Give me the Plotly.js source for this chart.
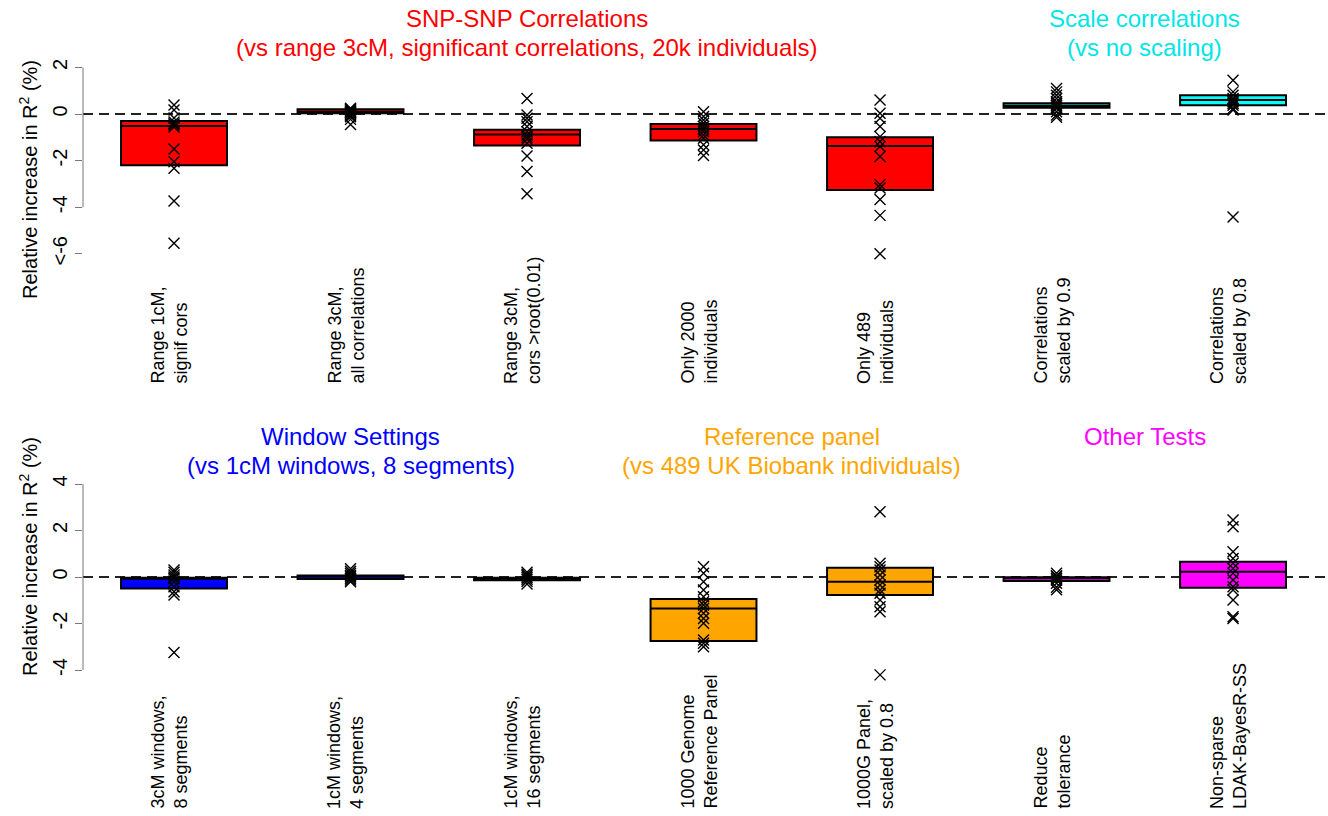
<!DOCTYPE html>
<html>
<head>
<meta charset="utf-8">
<script src="https://cdn.plot.ly/plotly-3.0.1.min.js"></script>
<style>html,body{margin:0;padding:0;background:#fff;}#chart{width:1328px;height:816px;}</style>
</head>
<body>
<div id="chart"></div>
<script>
// ---------- DATA ----------
const topCategories = ['Range 1cM,<br>signif cors', 'Range 3cM,<br>all correlations', 'Range 3cM,<br>cors >root(0.01)',
  'Only 2000<br>individuals', 'Only 489<br>individuals', 'Correlations<br>scaled by 0.9', 'Correlations<br>scaled by 0.8'];
const topQ1 = [-2.2, 0.03, -1.35, -1.14, -3.26, 0.27, 0.38];
const topMedian = [-0.51, 0.1, -0.88, -0.64, -1.37, 0.35, 0.6];
const topQ3 = [-0.3, 0.2, -0.67, -0.43, -1.0, 0.46, 0.81];
const topPoints = [
  [0.39, 0.17, -0.17, -0.34, -0.42, -0.47, -0.56, -1.5, -2.05, -2.33, -3.73, -5.55],
  [0.25, 0.2, 0.17, 0.13, 0.1, 0.08, 0.05, 0.02, -0.05, -0.12, -0.23, -0.45],
  [0.67, -0.04, -0.18, -0.33, -0.54, -0.76, -0.9, -1.0, -1.08, -1.25, -1.8, -2.47, -3.42],
  [0.1, -0.11, -0.26, -0.4, -0.54, -0.64, -0.75, -0.9, -1.04, -1.32, -1.54, -1.78],
  [0.6, 0.03, -0.18, -0.54, -0.97, -1.18, -1.39, -1.82, -3.03, -3.18, -3.67, -4.35, -6.0],
  [1.1, 0.95, 0.81, 0.67, 0.53, 0.45, 0.38, 0.3, 0.24, 0.1, -0.04, -0.14],
  [1.45, 0.95, 0.81, 0.67, 0.6, 0.53, 0.45, 0.38, 0.24, 0.17, -4.42]
];
const topTickVals = [-6, -4, -2, 0, 2];
const topTickText = ['<-6', '-4', '-2', '0', '2'];

const bottomCategories = ['3cM windows,<br>8 segments', '1cM windows,<br>4 segments', '1cM windows,<br>16 segments',
  '1000 Genome<br>Reference Panel', '1000G Panel,<br>scaled by 0.8', 'Reduce<br>tolerance', 'Non-sparse<br>LDAK-BayesR-SS'];
const bottomQ1 = [-0.49, -0.09, -0.14, -2.75, -0.77, -0.17, -0.46];
const bottomMedian = [-0.08, 0.03, -0.08, -1.35, -0.2, -0.05, 0.23];
const bottomQ3 = [-0.03, 0.06, -0.03, -0.95, 0.4, -0.01, 0.66];
const bottomPoints = [
  [0.3, 0.2, 0.09, 0.0, -0.06, -0.2, -0.42, -0.63, -0.77, -3.25],
  [0.35, 0.25, 0.16, 0.08, 0.01, -0.05, -0.13, -0.2],
  [0.2, 0.12, 0.05, -0.02, -0.1, -0.18, -0.3],
  [0.44, 0.16, -0.2, -0.56, -0.85, -1.06, -1.2, -1.35, -1.56, -1.78, -1.99, -2.71, -2.85, -3.0],
  [2.81, 0.59, 0.44, 0.3, 0.09, -0.13, -0.34, -0.56, -0.7, -0.99, -1.28, -1.49, -4.21],
  [0.16, 0.05, 0.01, -0.06, -0.13, -0.27, -0.44, -0.55],
  [2.45, 2.16, 1.09, 0.8, 0.59, 0.37, 0.16, -0.13, -0.42, -0.56, -0.99, -1.71, -1.78]
];
const bottomTickVals = [-4, -2, 0, 2, 4];
const bottomTickText = ['-4', '-2', '0', '2', '4'];

const groupTitles = [
  {line1: 'SNP-SNP Correlations', line2: '(vs range 3cM, significant correlations, 20k individuals)', panel: 'top', center: 3},
  {line1: 'Scale correlations', line2: '(vs no scaling)', panel: 'top', center: 6.5},
  {line1: 'Window Settings', line2: '(vs 1cM windows, 8 segments)', panel: 'bottom', center: 2},
  {line1: 'Reference panel', line2: '(vs 489 UK Biobank individuals)', panel: 'bottom', center: 4.5},
  {line1: 'Other Tests', line2: '', panel: 'bottom', center: 6.5}
];

// ---------- STYLE ----------
const topColors = ['#FF0000', '#FF0000', '#FF0000', '#FF0000', '#FF0000', '#00FFFF', '#00FFFF'];
const bottomColors = ['#0000FF', '#0000FF', '#0000FF', '#FFA500', '#FFA500', '#FF00FF', '#FF00FF'];
const titleColors = ['#FF0000', '#00E5E5', '#0000FF', '#FFA500', '#FF00FF'];
const FONT = 'Liberation Sans, Arial, Helvetica, sans-serif';
const W = 1328, H = 816;
const py = p => 1 - p / H;

const traces = [];
function addPanel(q1, med, q3, pts, colors, xa, ya) {
  for (let i = 0; i < q1.length; i++) {
    traces.push({
      type: 'box', x: [i + 1], q1: [q1[i]], median: [med[i]], q3: [q3[i]],
      lowerfence: [q1[i]], upperfence: [q3[i]], width: 0.6,
      fillcolor: colors[i], line: {color: '#000', width: 2},
      boxpoints: false, xaxis: xa, yaxis: ya, hoverinfo: 'skip'
    });
  }
  for (let i = 0; i < pts.length; i++) {
    traces.push({
      type: 'scatter', mode: 'markers', x: pts[i].map(() => i + 1), y: pts[i],
      marker: {symbol: 'x-thin-open', size: 11, color: '#000', line: {color: '#000', width: 1.4}},
      xaxis: xa, yaxis: ya, hoverinfo: 'y', cliponaxis: false
    });
  }
}
addPanel(topQ1, topMedian, topQ3, topPoints, topColors, 'x', 'y');
addPanel(bottomQ1, bottomMedian, bottomQ3, bottomPoints, bottomColors, 'x2', 'y2');

const xRange = [0.4844, 7.538];
const xDom = [83 / W, 1];
const axisX = {domain: xDom, range: xRange, showticklabels: false, showgrid: false, zeroline: false, showline: false, ticks: ''};
const yCommon = {
  showgrid: false, zeroline: false, showline: false, ticks: 'outside', ticklen: 7, tickwidth: 1, tickcolor: '#777',
  tickangle: -90, tickfont: {family: FONT, size: 20, color: '#000'}, tickmode: 'array'
};

const shapes = [];
const annotations = [];
[['y', 'x', -4, 2], ['y2', 'x2', -4, 4]].forEach(([ya, xa, lo, hi]) => {
  shapes.push({type: 'line', xref: xa + ' domain', x0: 0, x1: 1, yref: ya, y0: 0, y1: 0,
    line: {color: '#222', width: 2, dash: '10px,6px'}, layer: 'below'});
  shapes.push({type: 'line', xref: xa + ' domain', x0: 0, x1: 0, yref: ya, y0: lo, y1: hi,
    line: {color: '#777', width: 1}});
});

topCategories.forEach((c, i) => annotations.push({
  text: c, x: i + 1, xref: 'x', xshift: -5, y: py(386), yref: 'paper', xanchor: 'center', yanchor: 'bottom',
  textangle: -90, align: 'left', showarrow: false, font: {family: FONT, size: 18, color: '#000'}
}));
bottomCategories.forEach((c, i) => annotations.push({
  text: c, x: i + 1, xref: 'x2', xshift: -5, y: py(811), yref: 'paper', xanchor: 'center', yanchor: 'bottom',
  textangle: -90, align: 'left', showarrow: false, font: {family: FONT, size: 18, color: '#000'}
}));
groupTitles.forEach((g, i) => {
  const y1 = g.panel === 'top' ? 18 : 436;
  annotations.push({text: g.line1, x: g.center, xref: g.panel === 'top' ? 'x' : 'x2', y: py(y1), yref: 'paper',
    xanchor: 'center', yanchor: 'middle', showarrow: false, font: {family: FONT, size: 24, color: titleColors[i]}});
  if (g.line2) annotations.push({text: g.line2, x: g.center, xref: g.panel === 'top' ? 'x' : 'x2', y: py(y1 + 29), yref: 'paper',
    xanchor: 'center', yanchor: 'middle', showarrow: false, font: {family: FONT, size: 24, color: titleColors[i]}});
});
[180, 557].forEach(c => annotations.push({
  text: 'Relative increase in R<sup>2</sup> (%)', x: 28 / W, xref: 'paper', y: py(c), yref: 'paper',
  xanchor: 'center', yanchor: 'middle', textangle: -90, showarrow: false, font: {family: FONT, size: 20, color: '#000'}
}));

const layout = {
  width: W, height: H, margin: {l: 0, r: 0, t: 0, b: 0}, paper_bgcolor: '#fff', plot_bgcolor: 'rgba(0,0,0,0)',
  showlegend: false,
  xaxis: Object.assign({anchor: 'y'}, axisX),
  xaxis2: Object.assign({anchor: 'y2'}, axisX),
  yaxis: Object.assign({}, yCommon, {domain: [py(267.8), py(58.1)], range: [-6.6, 2.4], tickvals: topTickVals, ticktext: topTickText, anchor: 'x'}),
  yaxis2: Object.assign({}, yCommon, {domain: [py(679.3), py(474.7)], range: [-4.4, 4.4], tickvals: bottomTickVals, ticktext: bottomTickText, anchor: 'x2'}),
  shapes: shapes, annotations: annotations
};
Plotly.newPlot('chart', traces, layout, {displayModeBar: false, staticPlot: true});
</script>
</body>
</html>
